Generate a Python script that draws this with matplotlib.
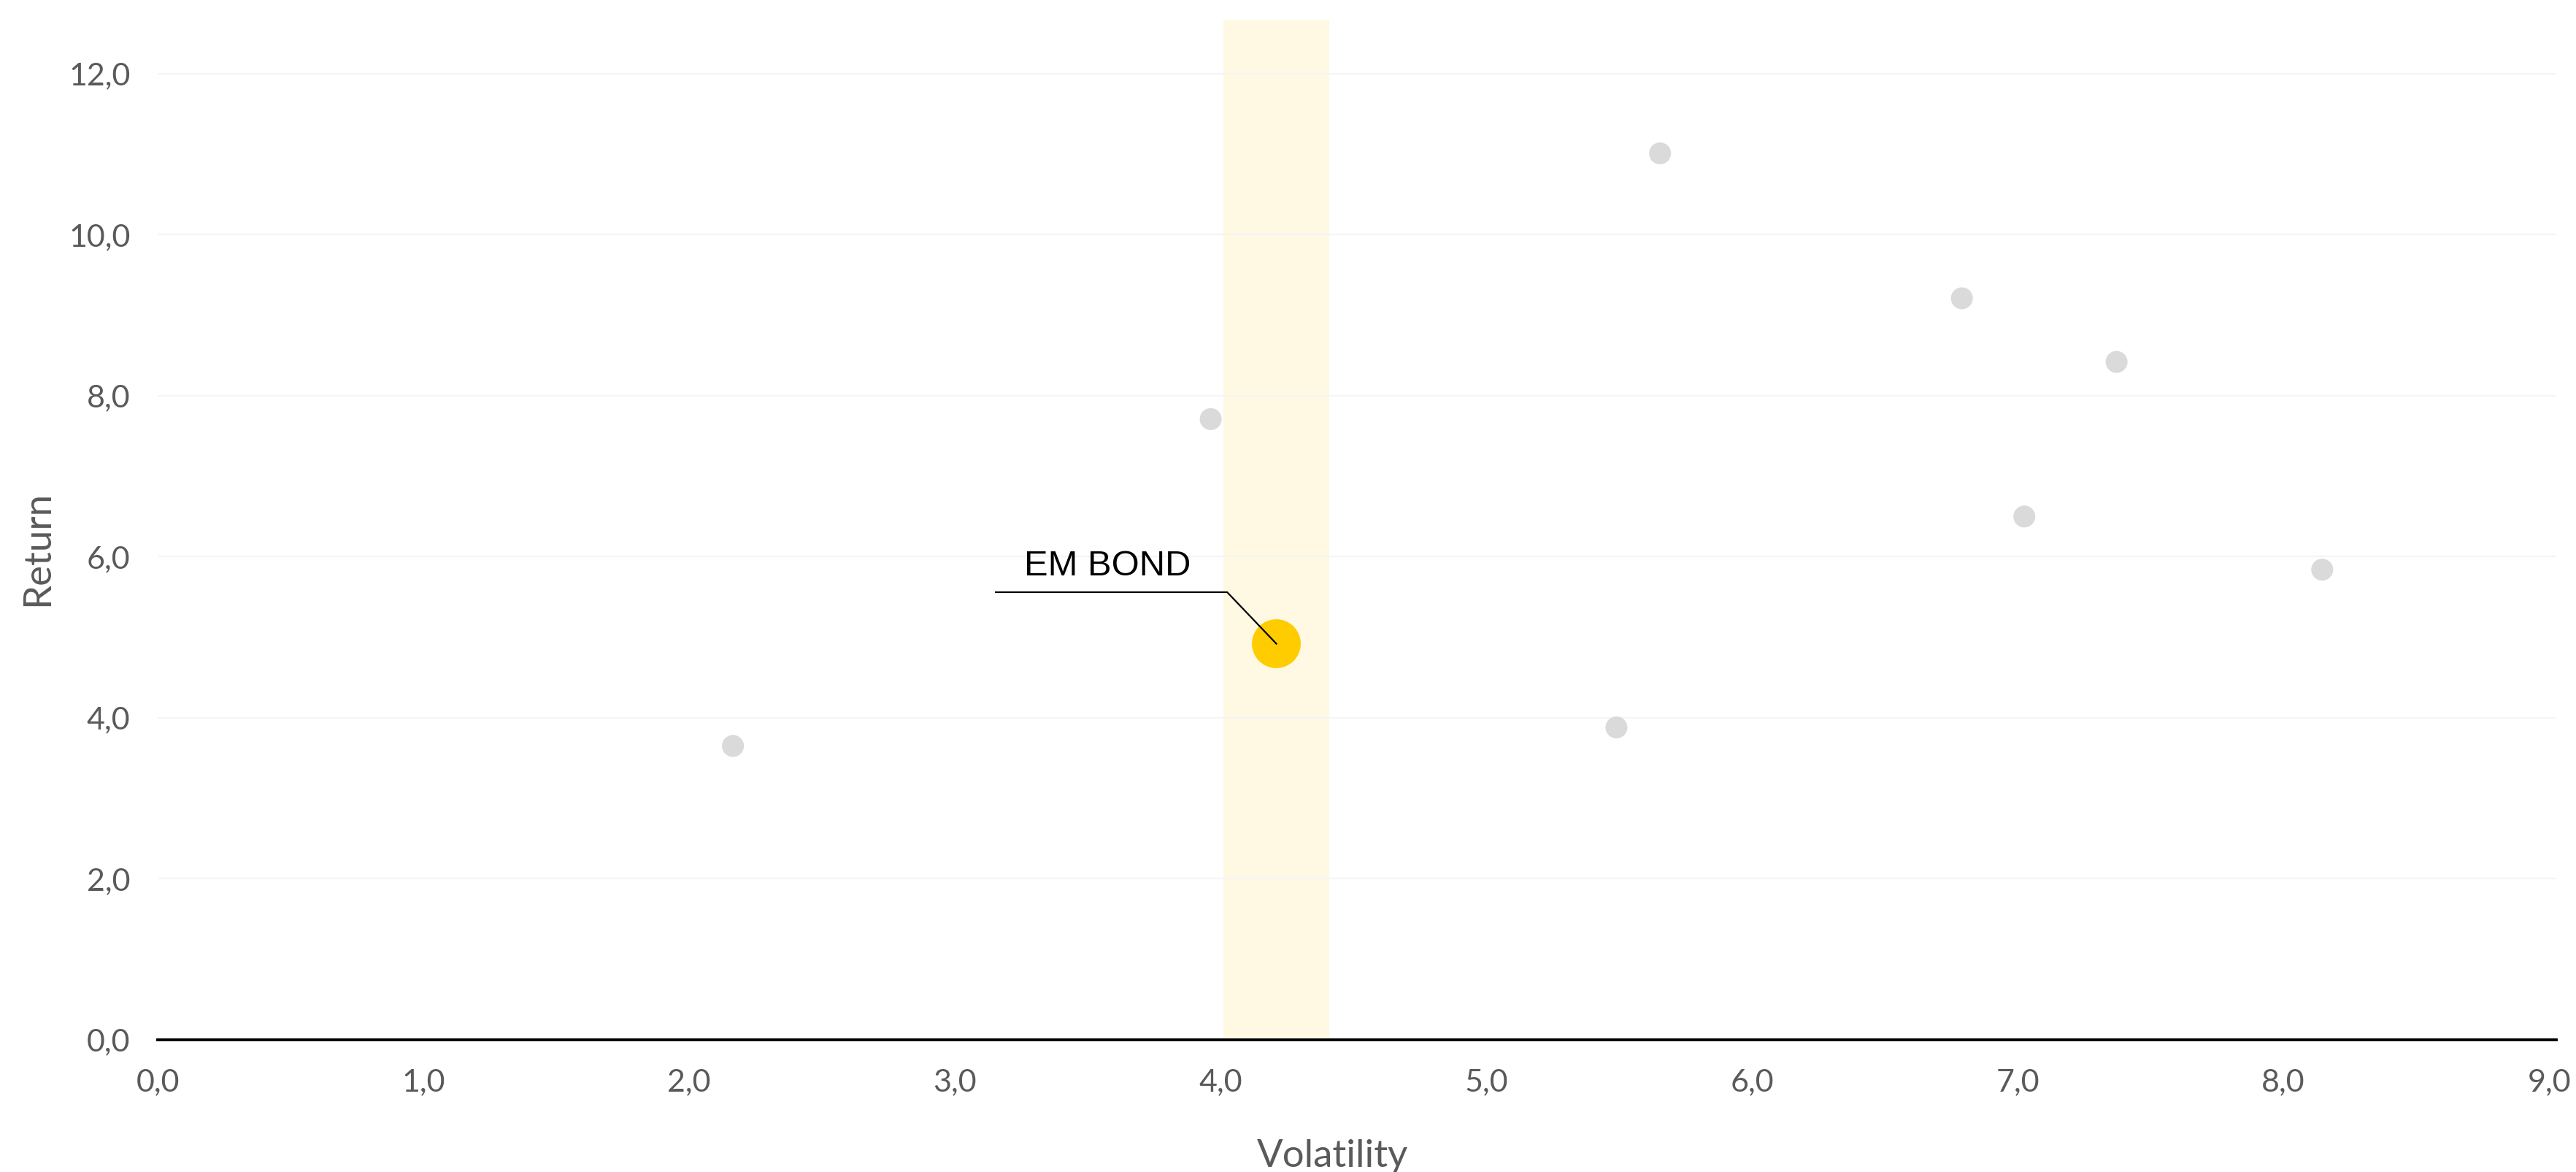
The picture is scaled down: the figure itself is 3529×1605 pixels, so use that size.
import matplotlib
matplotlib.use("Agg")
import matplotlib.pyplot as plt
from matplotlib.ticker import FuncFormatter

# -------------------- datos --------------------
vol_otros = [2.165, 3.963, 5.49, 5.654, 6.79, 7.025, 7.372, 8.146]
ret_otros = [3.65, 7.71, 3.88, 11.01, 9.21, 6.50, 8.42, 5.84]

em_label = "EM BOND"
em_vol = 4.21
em_ret = 4.92
banda = (4.01, 4.41)

x_ticks = [0, 1, 2, 3, 4, 5, 6, 7, 8, 9]
y_ticks = [0, 2, 4, 6, 8, 10, 12]

GRIS_TXT = "#5a5a5a"
FUENTE = ["Lato", "DejaVu Sans"]

# -------------------- figura --------------------
fig = plt.figure(figsize=(3529 / 200, 1605 / 200), dpi=200)
ax = fig.add_axes([216 / 3529, 1 - 1424 / 1605, (3502 - 216) / 3529, (1424 - 27) / 1605])

ax.set_xlim(0, 9.027)
ax.set_ylim(0, 12.67)

# banda de resalte
ax.axvspan(banda[0], banda[1], color="#fff8e3", zorder=0, lw=0)

# grilla horizontal muy suave
for yv in y_ticks[1:]:
    ax.axhline(yv, color="#f5f5f5", lw=0.8, zorder=0.5)

ax.scatter(vol_otros, ret_otros, s=117, color="#dadada", edgecolors="none", zorder=2)
ax.scatter([em_vol], [em_ret], s=580, color="#ffcc00", edgecolors="none", zorder=3)

# línea guía de la etiqueta
ax.plot([em_vol, 4.025, 3.154], [em_ret, 5.56, 5.56], color="black", lw=0.8, zorder=4)
ax.text(3.26, 5.77, em_label, fontsize=17.6, color="black", family=["Liberation Sans", "DejaVu Sans"],
        ha="left", va="baseline", zorder=5)

for s in ["top", "right", "left"]:
    ax.spines[s].set_visible(False)
ax.spines["bottom"].set_color("black")
ax.spines["bottom"].set_linewidth(1.4)

fmt = FuncFormatter(lambda v, p: f"{v:.1f}".replace(".", ","))
ax.set_xticks(x_ticks)
ax.set_yticks(y_ticks)
ax.xaxis.set_major_formatter(fmt)
ax.yaxis.set_major_formatter(fmt)
ax.tick_params(axis="both", length=0, labelsize=15.5, labelcolor=GRIS_TXT)
ax.tick_params(axis="x", pad=14)
ax.tick_params(axis="y", pad=13.5)
for lab in ax.get_xticklabels() + ax.get_yticklabels():
    lab.set_family(FUENTE)
    lab.set_fontweight("normal")

fig.text(1826 / 3529, 1 - 1598 / 1605, "Volatility", ha="center", va="baseline",
         fontsize=19, color=GRIS_TXT, family=FUENTE)
fig.text(52 / 3529, 1 - 751 / 1605, "Return", ha="center", va="center", rotation=90,
         fontsize=19, color=GRIS_TXT, family=FUENTE)

fig.savefig("out.png", dpi=200, facecolor="white")
